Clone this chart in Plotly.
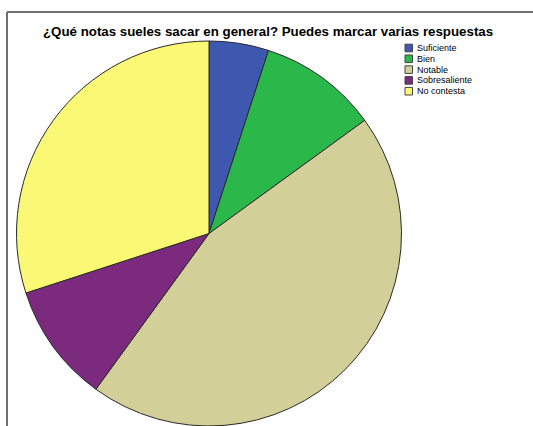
import plotly.graph_objects as go

categories = ["Suficiente", "Bien", "Notable", "Sobresaliente", "No contesta"]
values = [1, 2, 9, 2, 6]
colors = ["#3e58b0", "#2bb84a", "#d3cf99", "#7b2a7e", "#faf875"]
title = "¿Qué notas sueles sacar en general? Puedes marcar varias respuestas"

W, H = 533, 426
fig = go.Figure(go.Pie(
    labels=categories, values=values, sort=False, direction="clockwise", rotation=0,
    marker=dict(colors=colors, line=dict(color="#2a2a2a", width=1)),
    textinfo="none", hoverinfo="skip", showlegend=False,
    domain=dict(x=[16.5 / W, 401.5 / W], y=[0, 1 - 41 / H]),
))

shapes = [
    dict(type="line", xref="paper", yref="paper", x0=7 / W, x1=7 / W, y0=0, y1=1 - 12 / H,
         line=dict(color="#707070", width=2)),
    dict(type="line", xref="paper", yref="paper", x0=7 / W, x1=1, y0=1 - 12 / H, y1=1 - 12 / H,
         line=dict(color="#707070", width=2)),
]
annotations = [dict(text="<b>" + title + "</b>", x=268 / W, y=1 - 32 / H,
                    xref="paper", yref="paper", showarrow=False,
                    xanchor="center", yanchor="middle",
                    font=dict(size=13.3, family="Liberation Sans, Arial", color="black"))]

# legend built from the category/colour lists
ly0, ldy = 48, 10.8
for i, (lab, col) in enumerate(zip(categories, colors)):
    yc = ly0 + i * ldy
    shapes.append(dict(type="rect", xref="paper", yref="paper",
                       x0=405 / W, x1=412.5 / W, y0=1 - (yc + 3.8) / H, y1=1 - (yc - 3.8) / H,
                       fillcolor=col, line=dict(color="#444444", width=1)))
    annotations.append(dict(text=lab, x=415 / W, y=1 - yc / H, xref="paper", yref="paper",
                            showarrow=False, xanchor="left", yanchor="middle",
                            font=dict(size=9, family="Liberation Sans, Arial", color="black")))

fig.update_layout(
    width=W, height=H, margin=dict(l=0, r=0, t=0, b=0),
    paper_bgcolor="white", plot_bgcolor="white",
    font=dict(family="Liberation Sans, Arial", color="black"),
    showlegend=False,
    shapes=shapes, annotations=annotations,
)
fig.write_html("out.html", config={"displayModeBar": False},
               post_script="document.body.style.margin='0px';document.body.style.overflow='hidden';")
